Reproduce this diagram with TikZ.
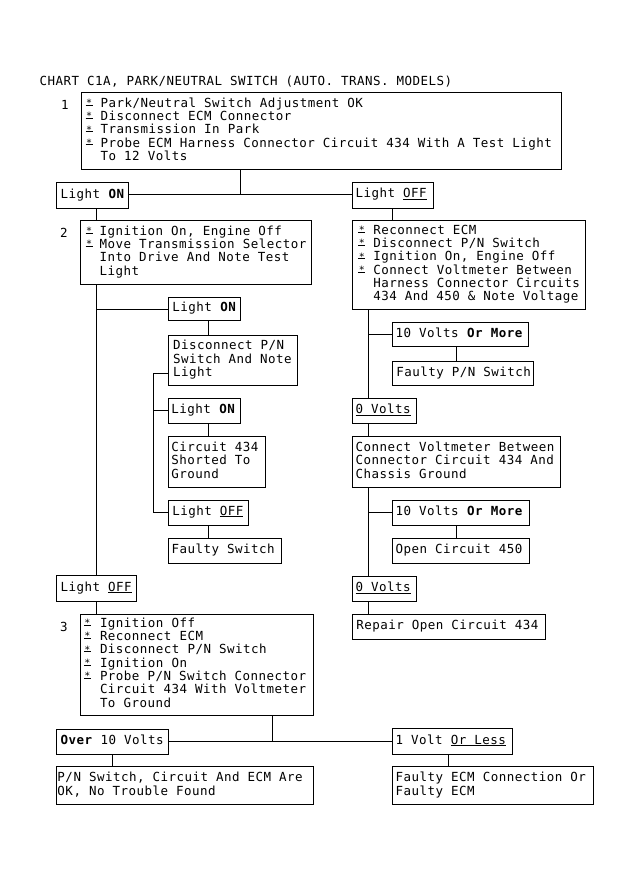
\documentclass[tikz,border=0pt]{standalone}
\usepackage{fontspec}
\setmainfont{DejaVu Sans Mono}[LetterSpace=3.8]
\newcommand\fz{\fontsize{12.5}{12.5}\selectfont}
\newcommand\stm[1]{\llap{\rlap{\rule[1.9pt]{7pt}{0.8pt}}\makebox[7pt]{\raisebox{0.8pt}{\fontsize{10}{10}\selectfont *}}\hspace{#1pt}}}
\newcommand\ulx[1]{\setbox0=\hbox{#1}\rlap{\rule[-1.8pt]{\wd0}{0.9pt}}\box0}
\newcommand\bt[3]{\makebox[#1pt][l]{\hspace*{#2pt}\begin{tabular}{@{}l@{}}#3\end{tabular}}}
\begin{document}
\begin{tikzpicture}[x=1pt,y=-1pt,
  every node/.style={font=\fz},
  box/.style={draw,line width=1pt,anchor=north west,inner sep=0pt,outer sep=0pt},
  ln/.style={line width=1pt}]
\fill[white] (0,0) rectangle (631,880);
\useasboundingbox (0,0) rectangle (631,880);

\node[anchor=base west] (title) at (36,86) {CHART C1A, PARK/NEUTRAL SWITCH (AUTO. TRANS. MODELS)};

% step 1
\node[anchor=base] (n1) at (65,110) {1};
\node[box,minimum height=76pt] (b1) at (81,93) {\bt{480}{19.7}{\stm{8}Park/Neutral Switch Adjustment OK\\ \stm{8}Disconnect ECM Connector\\ \stm{8}Transmission In Park\\ \stm{8}Probe ECM Harness Connector Circuit 434 With A Test Light\\ To 12 Volts}};
\node[box,minimum height=26pt] (lon1) at (56,182.3) {\bt{72}{4.7}{Light \textbf{ON}}};
\node[box,minimum height=26pt] (loff1) at (352,182) {\bt{81.3}{3.7}{Light \ulx{OFF}}};

% step 2
\node[anchor=base] (n2) at (64,237) {2};
\node[box,minimum height=63.3pt] (b2) at (80.7,220.7) {\bt{230.3}{19}{\stm{7}Ignition On, Engine Off\\ \stm{7}Move Transmission Selector\\ Into Drive And Note Test\\ Light}};
\node[box,minimum height=23.4pt] (lon2) at (168.3,297.3) {\bt{71.7}{4}{Light \textbf{ON}}};
\node[box,minimum height=49.3pt] (disc) at (168.3,335.7) {\bt{129}{4.7}{Disconnect P/N\\ Switch And Note\\ Light}};
\node[box,minimum height=25pt] (lon3) at (168.3,398.3) {\bt{72.4}{3}{Light \textbf{ON}}};
\node[box,minimum height=50.6pt] (circ) at (168.3,436.7) {\bt{96.7}{3}{Circuit 434\\ Shorted To\\ Ground}};
\node[box,minimum height=25pt] (loff3) at (168.3,500) {\bt{80}{4}{Light \ulx{OFF}}};
\node[box,minimum height=25pt] (fsw) at (168.3,538.3) {\bt{113.4}{3.4}{Faulty Switch}};

% right branch
\node[box,minimum height=88.3pt] (r1) at (352.3,220.7) {\bt{232.7}{21}{\stm{8}Reconnect ECM\\ \stm{8}Disconnect P/N Switch\\ \stm{8}Ignition On, Engine Off\\ \stm{8}Connect Voltmeter Between\\ Harness Connector Circuits\\ 434 And 450 \& Note Voltage}};
\node[box,minimum height=24pt] (t10a) at (392.3,322.7) {\bt{136}{3.4}{10 Volts \textbf{Or More}}};
\node[box,minimum height=24.7pt] (fpn) at (392.3,361) {\bt{141}{4}{Faulty P/N Switch}};
\node[box,minimum height=25pt] (v0a) at (352.3,398.3) {\bt{63.7}{3.4}{\ulx{0 Volts}}};
\node[box,minimum height=50.6pt] (conn) at (352.3,436.7) {\bt{208.4}{3.4}{Connect Voltmeter Between\\ Connector Circuit 434 And\\ Chassis Ground}};
\node[box,minimum height=25pt] (t10b) at (392.3,500) {\bt{136.7}{3.4}{10 Volts \textbf{Or More}}};
\node[box,minimum height=25pt] (open) at (392.3,538.3) {\bt{136.7}{3.4}{Open Circuit 450}};
\node[box,minimum height=24.3pt] (v0b) at (352.3,576.7) {\bt{63.7}{3.4}{\ulx{0 Volts}}};
\node[box,minimum height=24.7pt] (rep) at (352.3,614.3) {\bt{192.7}{4}{Repair Open Circuit 434}};

% step 3
\node[box,minimum height=26pt] (loff2) at (56.7,575.7) {\bt{80}{4}{Light \ulx{OFF}}};
\node[anchor=base] (n3) at (64,631) {3};
\node[box,minimum height=101pt] (b3) at (80.7,614) {\bt{232.6}{19.3}{\stm{9}Ignition Off\\ \stm{9}Reconnect ECM\\ \stm{9}Disconnect P/N Switch\\ \stm{9}Ignition On\\ \stm{9}Probe P/N Switch Connector\\ Circuit 434 With Voltmeter\\ To Ground}};
\node[box,minimum height=25pt] (over) at (56,729) {\bt{112.3}{4.7}{\textbf{Over} 10 Volts}};
\node[box,minimum height=25.7pt] (onev) at (392.3,728.3) {\bt{120.4}{3.4}{1 Volt \ulx{Or Less}}};
\node[box,minimum height=37.6pt] (pn) at (56,766.7) {\bt{257.3}{1.5}{P/N Switch, Circuit And ECM Are\\ OK, No Trouble Found}};
\node[box,minimum height=37.6pt] (fecm) at (392.3,766.7) {\bt{201}{3.4}{Faulty ECM Connection Or\\ Faulty ECM}};

% connector positions
\coordinate (xL) at (96.7,0);
\coordinate (j1) at (240.7,194.3);
\coordinate (xM) at (208.3,0);
\coordinate (k1) at (153.3,373.3);
\coordinate (xA) at (392.7,0);
\coordinate (xR) at (368.3,0);
\coordinate (xB) at (456,0);
\coordinate (j3) at (272.3,741.7);
\coordinate (xO) at (112.7,0);
\coordinate (xE) at (448.3,0);

\draw[ln] (b1.south -| j1) -- (j1);
\draw[ln] (lon1.east |- j1) -- (loff1.west |- j1);
\draw[ln] (lon1.south -| xL) -- (b2.north -| xL);
\draw[ln] (b2.south -| xL) -- (loff2.north -| xL);
\draw[ln] (xL |- lon2.west) -- (lon2.west);
\draw[ln] (lon2.south -| xM) -- (disc.north -| xM);
\draw[ln] (disc.west |- k1) -- (k1) -- (k1 |- loff3.west) -- (loff3.west);
\draw[ln] (k1 |- lon3.west) -- (lon3.west);
\draw[ln] (lon3.south -| xM) -- (circ.north -| xM);
\draw[ln] (loff3.south -| xM) -- (fsw.north -| xM);
\draw[ln] (loff1.south -| xA) -- (r1.north -| xA);
\draw[ln] (r1.south -| xR) -- (v0a.north -| xR);
\draw[ln] (xR |- t10a.west) -- (t10a.west);
\draw[ln] (t10a.south -| xB) -- (fpn.north -| xB);
\draw[ln] (v0a.south -| xR) -- (conn.north -| xR);
\draw[ln] (conn.south -| xR) -- (v0b.north -| xR);
\draw[ln] (xR |- t10b.west) -- (t10b.west);
\draw[ln] (t10b.south -| xB) -- (open.north -| xB);
\draw[ln] (v0b.south -| xR) -- (rep.north -| xR);
\draw[ln] (loff2.south -| xL) -- (b3.north -| xL);
\draw[ln] (b3.south -| j3) -- (j3);
\draw[ln] (over.east |- j3) -- (onev.west |- j3);
\draw[ln] (over.south -| xO) -- (pn.north -| xO);
\draw[ln] (onev.south -| xE) -- (fecm.north -| xE);
\end{tikzpicture}
\end{document}
